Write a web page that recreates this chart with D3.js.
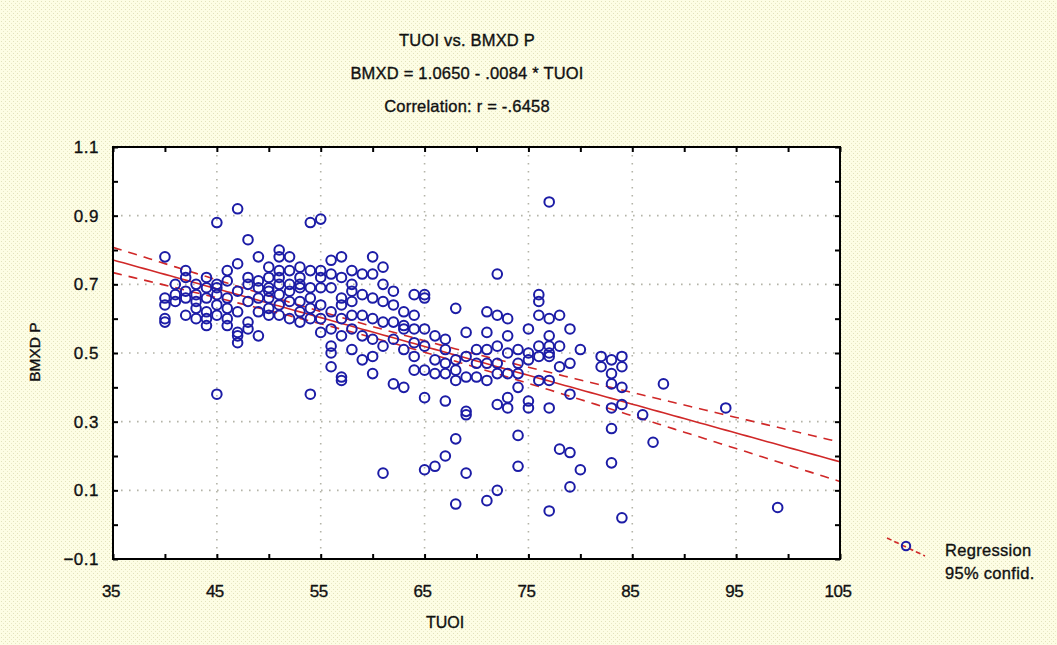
<!DOCTYPE html>
<html>
<head>
<meta charset="utf-8">
<script src="https://cdn.jsdelivr.net/npm/d3@7"></script>
<style>
  body { margin: 0; background: #fff; }
  text { font-family: "Liberation Sans", Arial, sans-serif; fill: #111; stroke: #111; stroke-width: 0.35; }
</style>
</head>
<body>
<svg id="chart" width="1057" height="645"></svg>
<script>
// Scatter of BMXD P against TUOI, grouped by age (TUOI).
var ages = [40, 41, 42, 43, 44, 45, 46, 47, 48, 49, 50, 51, 52, 53, 54, 55, 56, 57, 58, 59,
            60, 61, 62, 63, 64, 65, 66, 67, 68, 69, 70, 71, 72, 73, 74, 75, 76, 77, 78, 79,
            80, 82, 83, 84, 86, 87, 88, 94, 99];
var bmxdByAge = [
  [0.78, 0.66, 0.64, 0.60, 0.59],
  [0.67, 0.70, 0.65],
  [0.74, 0.72, 0.68, 0.61, 0.66],
  [0.70, 0.67, 0.63, 0.60, 0.65],
  [0.72, 0.69, 0.66, 0.62, 0.58, 0.60],
  [0.88, 0.70, 0.67, 0.64, 0.61, 0.38, 0.69],
  [0.71, 0.66, 0.63, 0.58, 0.60, 0.74],
  [0.92, 0.76, 0.68, 0.56, 0.53, 0.55, 0.62],
  [0.83, 0.72, 0.65, 0.59, 0.57, 0.70],
  [0.78, 0.71, 0.69, 0.66, 0.62, 0.55],
  [0.75, 0.72, 0.69, 0.66, 0.63, 0.61, 0.68],
  [0.80, 0.78, 0.74, 0.70, 0.67, 0.64, 0.61, 0.72],
  [0.78, 0.74, 0.70, 0.65, 0.60, 0.68],
  [0.75, 0.72, 0.69, 0.65, 0.62, 0.59, 0.70],
  [0.88, 0.74, 0.69, 0.63, 0.38, 0.66, 0.60],
  [0.89, 0.74, 0.72, 0.69, 0.64, 0.60, 0.56],
  [0.77, 0.73, 0.69, 0.57, 0.52, 0.50, 0.46, 0.62],
  [0.78, 0.72, 0.66, 0.60, 0.55, 0.42, 0.43, 0.64],
  [0.74, 0.70, 0.65, 0.61, 0.57, 0.51, 0.68],
  [0.73, 0.67, 0.61, 0.55, 0.48],
  [0.78, 0.73, 0.66, 0.60, 0.54, 0.49, 0.44],
  [0.75, 0.70, 0.65, 0.59, 0.52, 0.15],
  [0.68, 0.64, 0.59, 0.54, 0.41],
  [0.62, 0.57, 0.51, 0.40, 0.58],
  [0.67, 0.61, 0.57, 0.53, 0.49, 0.45],
  [0.67, 0.66, 0.57, 0.52, 0.37, 0.16, 0.45],
  [0.55, 0.48, 0.44, 0.17],
  [0.54, 0.51, 0.47, 0.44, 0.36, 0.20],
  [0.63, 0.48, 0.45, 0.42, 0.25, 0.06],
  [0.56, 0.49, 0.43, 0.33, 0.32, 0.15],
  [0.51, 0.47, 0.43],
  [0.62, 0.56, 0.51, 0.47, 0.42, 0.07],
  [0.73, 0.61, 0.52, 0.47, 0.44, 0.35, 0.10],
  [0.60, 0.55, 0.50, 0.44, 0.37, 0.34],
  [0.51, 0.47, 0.44, 0.40, 0.26, 0.17],
  [0.57, 0.50, 0.48, 0.36, 0.34],
  [0.67, 0.65, 0.61, 0.52, 0.49, 0.42],
  [0.94, 0.60, 0.55, 0.52, 0.50, 0.49, 0.42, 0.34, 0.04],
  [0.61, 0.52, 0.46, 0.22],
  [0.57, 0.47, 0.38, 0.21, 0.11],
  [0.51, 0.16],
  [0.49, 0.46],
  [0.48, 0.44, 0.41, 0.34, 0.28, 0.18],
  [0.49, 0.46, 0.40, 0.35, 0.02],
  [0.32],
  [0.24],
  [0.41],
  [0.34],
  [0.05]
];
var intercept = 1.0650, slope = -0.0084;
var xTicks = [35, 45, 55, 65, 75, 85, 95, 105];
var yTicks = [-0.1, 0.1, 0.3, 0.5, 0.7, 0.9, 1.1];
var titles = ["TUOI vs. BMXD P", "BMXD = 1.0650 - .0084 * TUOI", "Correlation: r = -.6458"];
var legendLabels = ["Regression", "95% confid."];

var points = [];
ages.forEach(function(a, i) {
  bmxdByAge[i].forEach(function(v) { points.push({ x: a, y: v }); });
});

var svg = d3.select("#chart");
var W = 1057, H = 645;
var pLeft = 113, pRight = 840, pTop = 147, pBottom = 559;

// Dotted pale yellow page background.
var defs = svg.append("defs");
var pat = defs.append("pattern").attr("id", "bgdots")
  .attr("width", 4).attr("height", 4).attr("patternUnits", "userSpaceOnUse");
pat.append("rect").attr("width", 4).attr("height", 4).attr("fill", "#fdfde4");
pat.append("rect").attr("x", 1).attr("y", 1).attr("width", 1).attr("height", 1).attr("fill", "#e2e2bc");
pat.append("rect").attr("x", 3).attr("y", 3).attr("width", 1).attr("height", 1).attr("fill", "#e9e8c6");
svg.append("rect").attr("width", W).attr("height", H).attr("fill", "url(#bgdots)");

defs.append("clipPath").attr("id", "plotclip")
  .append("rect").attr("x", pLeft).attr("y", pTop).attr("width", pRight - pLeft).attr("height", pBottom - pTop);

var x = d3.scaleLinear().domain([35, 105]).range([pLeft, pRight]);
var y = d3.scaleLinear().domain([-0.1, 1.1]).range([pBottom, pTop]);

svg.append("rect").attr("x", pLeft).attr("y", pTop)
  .attr("width", pRight - pLeft).attr("height", pBottom - pTop).attr("fill", "#fff");

// Grid lines (dotted).
var grid = svg.append("g").attr("stroke", "#b4b4a8").attr("stroke-width", 1.6)
  .attr("stroke-dasharray", "1.6 6.4");
grid.selectAll("line.v").data(xTicks.slice(1, -1)).enter().append("line")
  .attr("x1", function(d) { return x(d); }).attr("x2", function(d) { return x(d); })
  .attr("y1", pTop).attr("y2", pBottom);
grid.selectAll("line.h").data(yTicks.slice(1, -1)).enter().append("line")
  .attr("y1", function(d) { return y(d); }).attr("y2", function(d) { return y(d); })
  .attr("x1", pLeft).attr("x2", pRight);

// Axes with inward ticks, labels only on the left and bottom.
var yMinor = d3.range(-0.1, 1.1001, 0.1);
var xMinor = d3.range(35, 105.001, 5);
var fmtY = d3.format(".1f");
function styleTicks(g) {
  g.select(".domain").remove();
  g.selectAll("line").attr("stroke", "#000").attr("stroke-width", 2);
}

svg.append("g").attr("transform", "translate(" + pLeft + ",0)")
  .call(d3.axisRight(y).tickValues(yMinor).tickSize(5).tickFormat("")).call(styleTicks);
svg.append("g").attr("transform", "translate(" + pRight + ",0)")
  .call(d3.axisLeft(y).tickValues(yMinor).tickSize(5).tickFormat("")).call(styleTicks);
svg.append("g").attr("transform", "translate(0," + pBottom + ")")
  .call(d3.axisTop(x).tickValues(xMinor).tickSize(5).tickFormat("")).call(styleTicks);
svg.append("g").attr("transform", "translate(0," + pTop + ")")
  .call(d3.axisBottom(x).tickValues(xMinor).tickSize(5).tickFormat("")).call(styleTicks);

svg.append("g").selectAll("text").data(yTicks).enter().append("text")
  .attr("x", pLeft - 14).attr("y", function(d) { return y(d) + 6; })
  .attr("text-anchor", "end").attr("font-size", 17).attr("letter-spacing", 0.5)
  .text(function(d) { return fmtY(d); });
svg.append("g").selectAll("text").data(xTicks).enter().append("text")
  .attr("x", function(d) { return x(d) - 2; }).attr("y", pBottom + 38)
  .attr("text-anchor", "middle").attr("font-size", 17).attr("letter-spacing", -0.5)
  .text(function(d) { return d; });

// Regression line with 95% confidence band computed from the points.
var n = points.length;
var mx = d3.mean(points, function(d) { return d.x; });
var sxx = d3.sum(points, function(d) { return (d.x - mx) * (d.x - mx); });
var sse = d3.sum(points, function(d) { var r = d.y - (intercept + slope * d.x); return r * r; });
var s = Math.sqrt(sse / (n - 2));
var xs = d3.range(35, 105.001, 0.5);
function fit(v) { return intercept + slope * v; }
function half(v) { return 1.97 * s * Math.sqrt(1 / n + (v - mx) * (v - mx) / sxx); }

var reg = svg.append("g").attr("clip-path", "url(#plotclip)")
  .attr("fill", "none").attr("stroke", "#d02828").attr("stroke-width", 1.6);
var line = d3.line().x(function(d) { return x(d); });
reg.append("path").datum(xs).attr("d", line.y(function(d) { return y(fit(d)); }));
reg.append("path").datum(xs).attr("stroke-dasharray", "9 7")
  .attr("d", line.y(function(d) { return y(fit(d) + half(d)); }));
reg.append("path").datum(xs).attr("stroke-dasharray", "9 7")
  .attr("d", line.y(function(d) { return y(fit(d) - half(d)); }));

// Points.
svg.append("g").attr("clip-path", "url(#plotclip)").selectAll("circle")
  .data(points).enter().append("circle")
  .attr("cx", function(d) { return x(d.x); })
  .attr("cy", function(d) { return y(d.y); })
  .attr("r", 4.8).attr("fill", "none").attr("stroke", "#1c1ca6").attr("stroke-width", 2);

// Frame.
svg.append("rect").attr("x", pLeft).attr("y", pTop)
  .attr("width", pRight - pLeft).attr("height", pBottom - pTop)
  .attr("fill", "none").attr("stroke", "#000").attr("stroke-width", 2);

// Titles and axis labels.
svg.append("g").selectAll("text").data(titles).enter().append("text")
  .attr("x", 467).attr("y", function(d, i) { return 46 + i * 33; })
  .attr("text-anchor", "middle").attr("font-size", 16.5).attr("letter-spacing", 0.2)
  .text(function(d) { return d; });
svg.append("text").attr("x", 445).attr("y", 628).attr("text-anchor", "middle")
  .attr("font-size", 16).text("TUOI");
svg.append("text").attr("transform", "translate(40,352) rotate(-90)")
  .attr("text-anchor", "middle").attr("font-size", 15.5).text("BMXD P");

// Legend.
var lg = svg.append("g");
lg.append("line").attr("x1", 887).attr("y1", 538).attr("x2", 925).attr("y2", 556)
  .attr("stroke", "#d02828").attr("stroke-width", 1.6).attr("stroke-dasharray", "5 3");
lg.append("circle").attr("cx", 906).attr("cy", 546).attr("r", 4.2)
  .attr("fill", "none").attr("stroke", "#1c1ca6").attr("stroke-width", 2);
lg.selectAll("text").data(legendLabels).enter().append("text")
  .attr("x", 945).attr("y", function(d, i) { return 556 + i * 23; })
  .attr("font-size", 16.5).attr("letter-spacing", 0.3).text(function(d) { return d; });
</script>
</body>
</html>
